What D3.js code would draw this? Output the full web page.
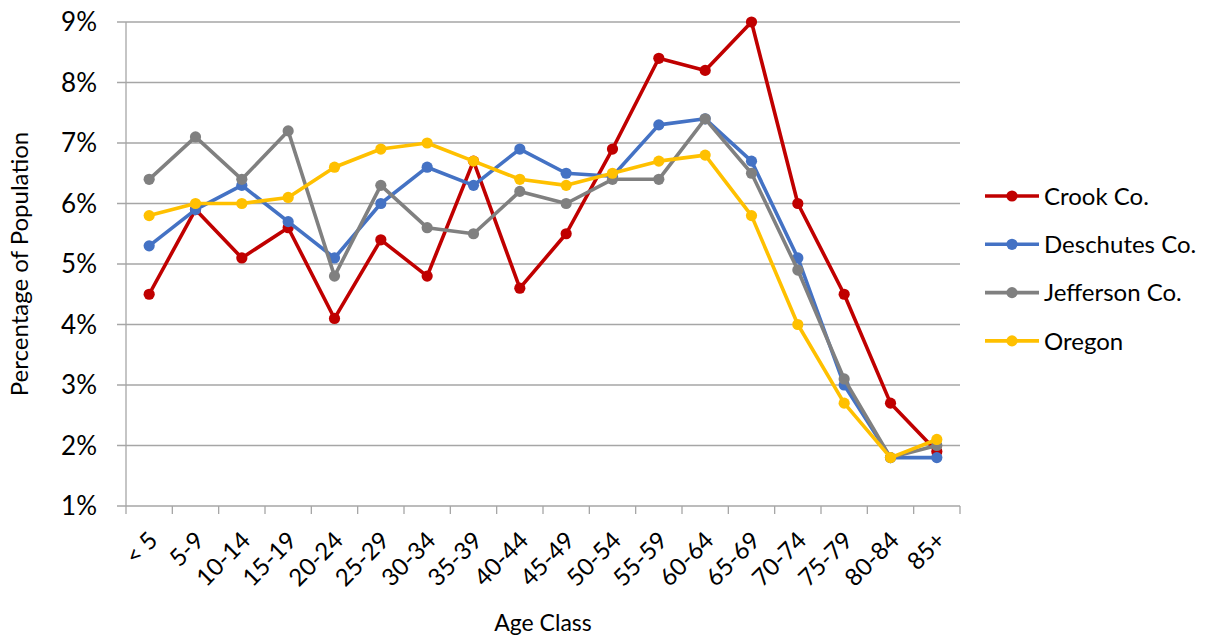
<!DOCTYPE html>
<html>
<head>
<meta charset="utf-8">
<script src="https://cdn.jsdelivr.net/npm/d3@7"></script>
<style>
  body { margin: 0; background: #fff; }
  text { font-family: Lato, "Open Sans", sans-serif; fill: #000; }
</style>
</head>
<body>
<div id="chart"></div>
<script>
const ageClasses = ["< 5", "5-9", "10-14", "15-19", "20-24", "25-29", "30-34", "35-39", "40-44",
  "45-49", "50-54", "55-59", "60-64", "65-69", "70-74", "75-79", "80-84", "85+"];

const crook = [4.5, 5.9, 5.1, 5.6, 4.1, 5.4, 4.8, 6.7, 4.6, 5.5, 6.9, 8.4, 8.2, 9.0, 6.0, 4.5, 2.7, 1.9];
const deschutes = [5.3, 5.9, 6.3, 5.7, 5.1, 6.0, 6.6, 6.3, 6.9, 6.5, 6.45, 7.3, 7.4, 6.7, 5.1, 3.0, 1.8, 1.8];
const jefferson = [6.4, 7.1, 6.4, 7.2, 4.8, 6.3, 5.6, 5.5, 6.2, 6.0, 6.4, 6.4, 7.4, 6.5, 4.9, 3.1, 1.8, 2.0];
const oregon = [5.8, 6.0, 6.0, 6.1, 6.6, 6.9, 7.0, 6.7, 6.4, 6.3, 6.5, 6.7, 6.8, 5.8, 4.0, 2.7, 1.8, 2.1];

const seriesNames = ["Crook Co.", "Deschutes Co.", "Jefferson Co.", "Oregon"];
const seriesColors = ["#C00000", "#4472C4", "#808080", "#FFC000"];
const yTicks = [1, 2, 3, 4, 5, 6, 7, 8, 9];

const series = [crook, deschutes, jefferson, oregon].map((values, i) => ({
  name: seriesNames[i],
  color: seriesColors[i],
  values: values
}));

const width = 1205, height = 637;
const margin = { left: 126, right: 245, top: 22, bottom: 131 };
const gridColor = "#a6a6a6";

const svg = d3.select("#chart")
  .append("svg")
  .attr("width", width)
  .attr("height", height);

const x = d3.scaleBand()
  .domain(ageClasses)
  .range([margin.left, width - margin.right]);

const y = d3.scaleLinear()
  .domain([1, 9])
  .range([height - margin.bottom, margin.top]);

// horizontal gridlines (with short outward tick)
svg.append("g")
  .selectAll("line")
  .data(yTicks)
  .join("line")
  .attr("x1", margin.left - 9)
  .attr("x2", width - margin.right)
  .attr("y1", d => y(d))
  .attr("y2", d => y(d))
  .style("stroke", gridColor)
  .style("stroke-width", 1.3);

// y axis line
svg.append("line")
  .attr("x1", margin.left).attr("x2", margin.left)
  .attr("y1", y(9)).attr("y2", y(1))
  .style("stroke", gridColor)
  .style("stroke-width", 1.3);

// x category ticks at band edges
const edges = ageClasses.map(c => x(c)).concat([x.range()[1]]);
svg.append("g")
  .selectAll("line")
  .data(edges)
  .join("line")
  .attr("x1", d => d).attr("x2", d => d)
  .attr("y1", y(1)).attr("y2", y(1) + 8)
  .style("stroke", gridColor)
  .style("stroke-width", 1.3);

// y tick labels
svg.append("g")
  .selectAll("text")
  .data(yTicks)
  .join("text")
  .attr("x", margin.left - 29)
  .attr("y", d => y(d))
  .attr("dy", "0.36em")
  .attr("text-anchor", "end")
  .style("font-size", "26px")
  .text(d => d + "%");

// x tick labels, rotated
svg.append("g")
  .selectAll("text")
  .data(ageClasses)
  .join("text")
  .attr("transform", d => `translate(${x(d) + x.bandwidth() / 2 + 10},${y(1) + 36}) rotate(-45)`)
  .attr("text-anchor", "end")
  .style("font-size", "24px")
  .text(d => d);

// axis titles
svg.append("text")
  .attr("x", (x.range()[0] + x.range()[1]) / 2)
  .attr("y", 631)
  .attr("text-anchor", "middle")
  .style("font-size", "23px")
  .text("Age Class");

svg.append("text")
  .attr("transform", `translate(28,${(y(1) + y(9)) / 2}) rotate(-90)`)
  .attr("text-anchor", "middle")
  .style("font-size", "24px")
  .text("Percentage of Population");

// lines and markers
const line = d3.line()
  .x((d, i) => x(ageClasses[i]) + x.bandwidth() / 2)
  .y(d => y(d));

const groups = svg.append("g")
  .selectAll("g")
  .data(series)
  .join("g");

groups.append("path")
  .attr("d", d => line(d.values))
  .style("fill", "none")
  .style("stroke", d => d.color)
  .style("stroke-width", 3.6)
  .style("stroke-linejoin", "round");

groups.selectAll("circle")
  .data(d => d.values.map((v, i) => ({ v: v, i: i, color: d.color })))
  .join("circle")
  .attr("cx", d => x(ageClasses[d.i]) + x.bandwidth() / 2)
  .attr("cy", d => y(d.v))
  .attr("r", 5.6)
  .style("fill", d => d.color);

// legend
const legend = svg.append("g")
  .selectAll("g")
  .data(series)
  .join("g")
  .attr("transform", (d, i) => `translate(985,${196 + i * 48.3})`);

legend.append("line")
  .attr("x1", 0).attr("x2", 54)
  .style("stroke", d => d.color)
  .style("stroke-width", 3.6);

legend.append("circle")
  .attr("cx", 27)
  .attr("r", 5.6)
  .style("fill", d => d.color);

legend.append("text")
  .attr("x", 59)
  .attr("dy", "0.36em")
  .style("font-size", "24px")
  .text(d => d.name);
</script>
</body>
</html>
